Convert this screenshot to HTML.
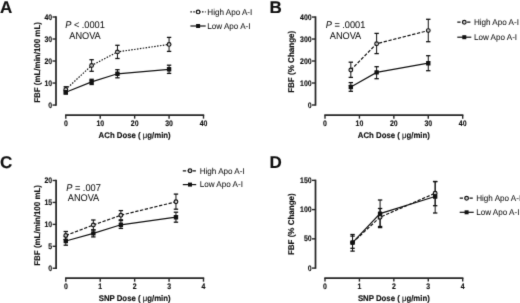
<!DOCTYPE html>
<html><head><meta charset="utf-8"><style>
html,body{margin:0;padding:0;background:#fff;}
svg{display:block;will-change:transform;text-rendering:geometricPrecision;}
text{font-family:"Liberation Sans", sans-serif;fill:#111;}
</style></head><body>
<svg width="520" height="303" viewBox="0 0 520 303">
<defs><filter id="soft" x="0" y="0" width="520" height="303" filterUnits="userSpaceOnUse" color-interpolation-filters="sRGB"><feConvolveMatrix order="3" kernelMatrix="1 7 1 7 55 7 1 7 1" divisor="87" edgeMode="duplicate"/></filter></defs>
<g filter="url(#soft)">
<rect width="520" height="303" fill="#fff"/>
<text transform="translate(0.00,12.60) scale(1,1.0)" font-size="17" font-weight="bold" stroke="#111" stroke-width="0.15">A</text>
<line x1="56.0" y1="16.3" x2="56.0" y2="105.75" stroke="#262626" stroke-width="1.75"/>
<line x1="52.5" y1="105.05" x2="56.0" y2="105.05" stroke="#262626" stroke-width="1.4"/>
<text transform="translate(52.05,107.55) scale(1,1.15)" font-size="6.9" font-weight="bold" text-anchor="end" stroke="#111" stroke-width="0.15" letter-spacing="0">0</text>
<line x1="52.5" y1="83.04" x2="56.0" y2="83.04" stroke="#262626" stroke-width="1.4"/>
<text transform="translate(52.05,85.54) scale(1,1.15)" font-size="6.9" font-weight="bold" text-anchor="end" stroke="#111" stroke-width="0.15" letter-spacing="0">10</text>
<line x1="52.5" y1="61.02" x2="56.0" y2="61.02" stroke="#262626" stroke-width="1.4"/>
<text transform="translate(52.05,63.52) scale(1,1.15)" font-size="6.9" font-weight="bold" text-anchor="end" stroke="#111" stroke-width="0.15" letter-spacing="0">20</text>
<line x1="52.5" y1="39.01" x2="56.0" y2="39.01" stroke="#262626" stroke-width="1.4"/>
<text transform="translate(52.05,41.51) scale(1,1.15)" font-size="6.9" font-weight="bold" text-anchor="end" stroke="#111" stroke-width="0.15" letter-spacing="0">30</text>
<line x1="52.5" y1="17.00" x2="56.0" y2="17.00" stroke="#262626" stroke-width="1.4"/>
<text transform="translate(52.05,19.50) scale(1,1.15)" font-size="6.9" font-weight="bold" text-anchor="end" stroke="#111" stroke-width="0.15" letter-spacing="0">40</text>
<line x1="65.1" y1="115.15" x2="204.2" y2="115.15" stroke="#262626" stroke-width="1.75"/>
<line x1="65.80" y1="115.15" x2="65.80" y2="118.65" stroke="#262626" stroke-width="1.4"/>
<text transform="translate(65.80,125.60) scale(1,1.15)" font-size="6.9" font-weight="bold" text-anchor="middle" stroke="#111" stroke-width="0.15" letter-spacing="0">0</text>
<line x1="100.22" y1="115.15" x2="100.22" y2="118.65" stroke="#262626" stroke-width="1.4"/>
<text transform="translate(100.22,125.60) scale(1,1.15)" font-size="6.9" font-weight="bold" text-anchor="middle" stroke="#111" stroke-width="0.15" letter-spacing="0">10</text>
<line x1="134.65" y1="115.15" x2="134.65" y2="118.65" stroke="#262626" stroke-width="1.4"/>
<text transform="translate(134.65,125.60) scale(1,1.15)" font-size="6.9" font-weight="bold" text-anchor="middle" stroke="#111" stroke-width="0.15" letter-spacing="0">20</text>
<line x1="169.07" y1="115.15" x2="169.07" y2="118.65" stroke="#262626" stroke-width="1.4"/>
<text transform="translate(169.07,125.60) scale(1,1.15)" font-size="6.9" font-weight="bold" text-anchor="middle" stroke="#111" stroke-width="0.15" letter-spacing="0">30</text>
<line x1="203.50" y1="115.15" x2="203.50" y2="118.65" stroke="#262626" stroke-width="1.4"/>
<text transform="translate(203.50,125.60) scale(1,1.15)" font-size="6.9" font-weight="bold" text-anchor="middle" stroke="#111" stroke-width="0.15" letter-spacing="0">40</text>
<text transform="translate(134.65,137.80) scale(1,1.05)" font-size="7.8" font-weight="bold" text-anchor="middle" stroke="#111" stroke-width="0.15">ACh Dose ( <tspan font-weight="normal">&#956;</tspan>g/min)</text>
<text transform="translate(39.60,62.45) rotate(-90) scale(1,1.05)" font-size="7.95" font-weight="bold" text-anchor="middle" stroke="#111" stroke-width="0.15">FBF (mL/min/100 mL)</text>
<text transform="translate(85.00,28.00) scale(1,1.05)" font-size="9.2" text-anchor="middle" stroke="#111" stroke-width="0.05"><tspan font-style="italic">P</tspan> &lt; .0001</text>
<text transform="translate(85.00,38.50) scale(1,1.05)" font-size="9.2" text-anchor="middle" stroke="#111" stroke-width="0.05">ANOVA</text>
<polyline points="65.80,89.40 91.62,65.50 117.44,51.90 169.07,44.40" fill="none" stroke="#111" stroke-width="1.2" stroke-dasharray="1.5 1.4"/>
<polyline points="65.80,92.30 91.62,81.90 117.44,73.80 169.07,69.30" fill="none" stroke="#111" stroke-width="1.2"/>
<line x1="65.80" y1="86.75" x2="65.80" y2="92.00" stroke="#111" stroke-width="1.0"/>
<line x1="63.60" y1="86.75" x2="68.00" y2="86.75" stroke="#111" stroke-width="1.3"/>
<line x1="63.60" y1="92.00" x2="68.00" y2="92.00" stroke="#111" stroke-width="1.3"/>
<line x1="91.62" y1="59.70" x2="91.62" y2="71.30" stroke="#111" stroke-width="1.0"/>
<line x1="89.42" y1="59.70" x2="93.82" y2="59.70" stroke="#111" stroke-width="1.3"/>
<line x1="89.42" y1="71.30" x2="93.82" y2="71.30" stroke="#111" stroke-width="1.3"/>
<line x1="117.44" y1="45.30" x2="117.44" y2="58.50" stroke="#111" stroke-width="1.0"/>
<line x1="115.24" y1="45.30" x2="119.64" y2="45.30" stroke="#111" stroke-width="1.3"/>
<line x1="115.24" y1="58.50" x2="119.64" y2="58.50" stroke="#111" stroke-width="1.3"/>
<line x1="169.07" y1="37.40" x2="169.07" y2="51.40" stroke="#111" stroke-width="1.0"/>
<line x1="166.88" y1="37.40" x2="171.27" y2="37.40" stroke="#111" stroke-width="1.3"/>
<line x1="166.88" y1="51.40" x2="171.27" y2="51.40" stroke="#111" stroke-width="1.3"/>
<line x1="65.80" y1="90.60" x2="65.80" y2="94.00" stroke="#111" stroke-width="1.0"/>
<line x1="63.60" y1="90.60" x2="68.00" y2="90.60" stroke="#111" stroke-width="1.3"/>
<line x1="63.60" y1="94.00" x2="68.00" y2="94.00" stroke="#111" stroke-width="1.3"/>
<line x1="91.62" y1="79.30" x2="91.62" y2="84.50" stroke="#111" stroke-width="1.0"/>
<line x1="89.42" y1="79.30" x2="93.82" y2="79.30" stroke="#111" stroke-width="1.3"/>
<line x1="89.42" y1="84.50" x2="93.82" y2="84.50" stroke="#111" stroke-width="1.3"/>
<line x1="117.44" y1="69.70" x2="117.44" y2="77.80" stroke="#111" stroke-width="1.0"/>
<line x1="115.24" y1="69.70" x2="119.64" y2="69.70" stroke="#111" stroke-width="1.3"/>
<line x1="115.24" y1="77.80" x2="119.64" y2="77.80" stroke="#111" stroke-width="1.3"/>
<line x1="169.07" y1="65.20" x2="169.07" y2="73.40" stroke="#111" stroke-width="1.0"/>
<line x1="166.88" y1="65.20" x2="171.27" y2="65.20" stroke="#111" stroke-width="1.3"/>
<line x1="166.88" y1="73.40" x2="171.27" y2="73.40" stroke="#111" stroke-width="1.3"/>
<circle cx="65.80" cy="89.40" r="1.85" fill="#fff" fill-opacity="0.7" stroke="#111" stroke-width="1.2"/>
<circle cx="91.62" cy="65.50" r="1.85" fill="#fff" fill-opacity="0.7" stroke="#111" stroke-width="1.2"/>
<circle cx="117.44" cy="51.90" r="1.85" fill="#fff" fill-opacity="0.7" stroke="#111" stroke-width="1.2"/>
<circle cx="169.07" cy="44.40" r="1.85" fill="#fff" fill-opacity="0.7" stroke="#111" stroke-width="1.2"/>
<rect x="63.60" y="90.10" width="4.4" height="4.4" rx="0.5" fill="#111"/>
<rect x="89.42" y="79.70" width="4.4" height="4.4" rx="0.5" fill="#111"/>
<rect x="115.24" y="71.60" width="4.4" height="4.4" rx="0.5" fill="#111"/>
<rect x="166.88" y="67.10" width="4.4" height="4.4" rx="0.5" fill="#111"/>
<line x1="190.4" y1="11.9" x2="205.70000000000002" y2="11.9" stroke="#111" stroke-width="1.2" stroke-dasharray="1.5 1.4"/>
<circle cx="198.1" cy="11.9" r="1.85" fill="#fff" fill-opacity="0.7" stroke="#111" stroke-width="1.2"/>
<text transform="translate(207.30,14.70) scale(1,1.05)" font-size="8.1" stroke="#111" stroke-width="0.05">High Apo A-I</text>
<line x1="190.4" y1="26.0" x2="205.70000000000002" y2="26.0" stroke="#111" stroke-width="1.2"/>
<rect x="196.1" y="24.0" width="4" height="4" fill="#111"/>
<text transform="translate(207.30,28.80) scale(1,1.05)" font-size="8.1" stroke="#111" stroke-width="0.05">Low Apo A-I</text>
<text transform="translate(269.60,12.60) scale(1,1.0)" font-size="17" font-weight="bold" stroke="#111" stroke-width="0.15">B</text>
<line x1="315.5" y1="16.35" x2="315.5" y2="105.7" stroke="#262626" stroke-width="1.75"/>
<line x1="312.0" y1="105.00" x2="315.5" y2="105.00" stroke="#262626" stroke-width="1.4"/>
<text transform="translate(311.55,107.50) scale(1,1.15)" font-size="6.9" font-weight="bold" text-anchor="end" stroke="#111" stroke-width="0.15" letter-spacing="0">0</text>
<line x1="312.0" y1="83.01" x2="315.5" y2="83.01" stroke="#262626" stroke-width="1.4"/>
<text transform="translate(311.55,85.51) scale(1,1.15)" font-size="6.9" font-weight="bold" text-anchor="end" stroke="#111" stroke-width="0.15" letter-spacing="0">100</text>
<line x1="312.0" y1="61.02" x2="315.5" y2="61.02" stroke="#262626" stroke-width="1.4"/>
<text transform="translate(311.55,63.52) scale(1,1.15)" font-size="6.9" font-weight="bold" text-anchor="end" stroke="#111" stroke-width="0.15" letter-spacing="0">200</text>
<line x1="312.0" y1="39.04" x2="315.5" y2="39.04" stroke="#262626" stroke-width="1.4"/>
<text transform="translate(311.55,41.54) scale(1,1.15)" font-size="6.9" font-weight="bold" text-anchor="end" stroke="#111" stroke-width="0.15" letter-spacing="0">300</text>
<line x1="312.0" y1="17.05" x2="315.5" y2="17.05" stroke="#262626" stroke-width="1.4"/>
<text transform="translate(311.55,19.55) scale(1,1.15)" font-size="6.9" font-weight="bold" text-anchor="end" stroke="#111" stroke-width="0.15" letter-spacing="0">400</text>
<line x1="324.3" y1="115.15" x2="463.4" y2="115.15" stroke="#262626" stroke-width="1.75"/>
<line x1="325.00" y1="115.15" x2="325.00" y2="118.65" stroke="#262626" stroke-width="1.4"/>
<text transform="translate(325.00,125.60) scale(1,1.15)" font-size="6.9" font-weight="bold" text-anchor="middle" stroke="#111" stroke-width="0.15" letter-spacing="0">0</text>
<line x1="359.43" y1="115.15" x2="359.43" y2="118.65" stroke="#262626" stroke-width="1.4"/>
<text transform="translate(359.43,125.60) scale(1,1.15)" font-size="6.9" font-weight="bold" text-anchor="middle" stroke="#111" stroke-width="0.15" letter-spacing="0">10</text>
<line x1="393.85" y1="115.15" x2="393.85" y2="118.65" stroke="#262626" stroke-width="1.4"/>
<text transform="translate(393.85,125.60) scale(1,1.15)" font-size="6.9" font-weight="bold" text-anchor="middle" stroke="#111" stroke-width="0.15" letter-spacing="0">20</text>
<line x1="428.27" y1="115.15" x2="428.27" y2="118.65" stroke="#262626" stroke-width="1.4"/>
<text transform="translate(428.27,125.60) scale(1,1.15)" font-size="6.9" font-weight="bold" text-anchor="middle" stroke="#111" stroke-width="0.15" letter-spacing="0">30</text>
<line x1="462.70" y1="115.15" x2="462.70" y2="118.65" stroke="#262626" stroke-width="1.4"/>
<text transform="translate(462.70,125.60) scale(1,1.15)" font-size="6.9" font-weight="bold" text-anchor="middle" stroke="#111" stroke-width="0.15" letter-spacing="0">40</text>
<text transform="translate(393.85,137.80) scale(1,1.05)" font-size="7.8" font-weight="bold" text-anchor="middle" stroke="#111" stroke-width="0.15">ACh Dose ( <tspan font-weight="normal">&#956;</tspan>g/min)</text>
<text transform="translate(294.40,61.80) rotate(-90) scale(1,1.05)" font-size="8.05" font-weight="bold" text-anchor="middle" stroke="#111" stroke-width="0.15">FBF (% Change)</text>
<text transform="translate(345.50,28.00) scale(1,1.05)" font-size="9.2" text-anchor="middle" stroke="#111" stroke-width="0.05"><tspan font-style="italic">P</tspan> = .0001</text>
<text transform="translate(345.50,38.50) scale(1,1.05)" font-size="9.2" text-anchor="middle" stroke="#111" stroke-width="0.05">ANOVA</text>
<polyline points="350.82,70.00 376.64,43.70 428.27,30.60" fill="none" stroke="#111" stroke-width="1.2" stroke-dasharray="3.3 1.6"/>
<polyline points="350.82,87.00 376.64,72.40 428.27,63.20" fill="none" stroke="#111" stroke-width="1.2"/>
<line x1="350.82" y1="62.20" x2="350.82" y2="77.40" stroke="#111" stroke-width="1.0"/>
<line x1="348.62" y1="62.20" x2="353.02" y2="62.20" stroke="#111" stroke-width="1.3"/>
<line x1="348.62" y1="77.40" x2="353.02" y2="77.40" stroke="#111" stroke-width="1.3"/>
<line x1="376.64" y1="33.40" x2="376.64" y2="53.60" stroke="#111" stroke-width="1.0"/>
<line x1="374.44" y1="33.40" x2="378.84" y2="33.40" stroke="#111" stroke-width="1.3"/>
<line x1="374.44" y1="53.60" x2="378.84" y2="53.60" stroke="#111" stroke-width="1.3"/>
<line x1="428.27" y1="19.30" x2="428.27" y2="41.70" stroke="#111" stroke-width="1.0"/>
<line x1="426.07" y1="19.30" x2="430.47" y2="19.30" stroke="#111" stroke-width="1.3"/>
<line x1="426.07" y1="41.70" x2="430.47" y2="41.70" stroke="#111" stroke-width="1.3"/>
<line x1="350.82" y1="82.60" x2="350.82" y2="91.30" stroke="#111" stroke-width="1.0"/>
<line x1="348.62" y1="82.60" x2="353.02" y2="82.60" stroke="#111" stroke-width="1.3"/>
<line x1="348.62" y1="91.30" x2="353.02" y2="91.30" stroke="#111" stroke-width="1.3"/>
<line x1="376.64" y1="66.70" x2="376.64" y2="78.70" stroke="#111" stroke-width="1.0"/>
<line x1="374.44" y1="66.70" x2="378.84" y2="66.70" stroke="#111" stroke-width="1.3"/>
<line x1="374.44" y1="78.70" x2="378.84" y2="78.70" stroke="#111" stroke-width="1.3"/>
<line x1="428.27" y1="55.70" x2="428.27" y2="70.70" stroke="#111" stroke-width="1.0"/>
<line x1="426.07" y1="55.70" x2="430.47" y2="55.70" stroke="#111" stroke-width="1.3"/>
<line x1="426.07" y1="70.70" x2="430.47" y2="70.70" stroke="#111" stroke-width="1.3"/>
<circle cx="350.82" cy="70.00" r="1.85" fill="#fff" fill-opacity="0.7" stroke="#111" stroke-width="1.2"/>
<circle cx="376.64" cy="43.70" r="1.85" fill="#fff" fill-opacity="0.7" stroke="#111" stroke-width="1.2"/>
<circle cx="428.27" cy="30.60" r="1.85" fill="#fff" fill-opacity="0.7" stroke="#111" stroke-width="1.2"/>
<rect x="348.62" y="84.80" width="4.4" height="4.4" rx="0.5" fill="#111"/>
<rect x="374.44" y="70.20" width="4.4" height="4.4" rx="0.5" fill="#111"/>
<rect x="426.07" y="61.00" width="4.4" height="4.4" rx="0.5" fill="#111"/>
<line x1="457.3" y1="22.2" x2="471.3" y2="22.2" stroke="#111" stroke-width="1.2" stroke-dasharray="3.3 1.6"/>
<circle cx="464.3" cy="22.2" r="1.85" fill="#fff" fill-opacity="0.7" stroke="#111" stroke-width="1.2"/>
<text transform="translate(473.90,25.00) scale(1,1.05)" font-size="8.1" stroke="#111" stroke-width="0.05">High Apo A-I</text>
<line x1="457.3" y1="37.2" x2="471.3" y2="37.2" stroke="#111" stroke-width="1.2"/>
<rect x="462.3" y="35.2" width="4" height="4" fill="#111"/>
<text transform="translate(473.90,40.00) scale(1,1.05)" font-size="8.1" stroke="#111" stroke-width="0.05">Low Apo A-I</text>
<text transform="translate(0.00,168.10) scale(1,1.0)" font-size="17" font-weight="bold" stroke="#111" stroke-width="0.15">C</text>
<line x1="56.1" y1="179.8" x2="56.1" y2="268.95" stroke="#262626" stroke-width="1.75"/>
<line x1="52.6" y1="268.25" x2="56.1" y2="268.25" stroke="#262626" stroke-width="1.4"/>
<text transform="translate(52.15,270.75) scale(1,1.15)" font-size="6.9" font-weight="bold" text-anchor="end" stroke="#111" stroke-width="0.15" letter-spacing="0">0</text>
<line x1="52.6" y1="246.31" x2="56.1" y2="246.31" stroke="#262626" stroke-width="1.4"/>
<text transform="translate(52.15,248.81) scale(1,1.15)" font-size="6.9" font-weight="bold" text-anchor="end" stroke="#111" stroke-width="0.15" letter-spacing="0">5</text>
<line x1="52.6" y1="224.38" x2="56.1" y2="224.38" stroke="#262626" stroke-width="1.4"/>
<text transform="translate(52.15,226.88) scale(1,1.15)" font-size="6.9" font-weight="bold" text-anchor="end" stroke="#111" stroke-width="0.15" letter-spacing="0">10</text>
<line x1="52.6" y1="202.44" x2="56.1" y2="202.44" stroke="#262626" stroke-width="1.4"/>
<text transform="translate(52.15,204.94) scale(1,1.15)" font-size="6.9" font-weight="bold" text-anchor="end" stroke="#111" stroke-width="0.15" letter-spacing="0">15</text>
<line x1="52.6" y1="180.50" x2="56.1" y2="180.50" stroke="#262626" stroke-width="1.4"/>
<text transform="translate(52.15,183.00) scale(1,1.15)" font-size="6.9" font-weight="bold" text-anchor="end" stroke="#111" stroke-width="0.15" letter-spacing="0">20</text>
<line x1="65.1" y1="278.2" x2="204.2" y2="278.2" stroke="#262626" stroke-width="1.75"/>
<line x1="65.80" y1="278.2" x2="65.80" y2="281.7" stroke="#262626" stroke-width="1.4"/>
<text transform="translate(65.80,288.65) scale(1,1.15)" font-size="6.9" font-weight="bold" text-anchor="middle" stroke="#111" stroke-width="0.15" letter-spacing="0">0</text>
<line x1="100.22" y1="278.2" x2="100.22" y2="281.7" stroke="#262626" stroke-width="1.4"/>
<text transform="translate(100.22,288.65) scale(1,1.15)" font-size="6.9" font-weight="bold" text-anchor="middle" stroke="#111" stroke-width="0.15" letter-spacing="0">1</text>
<line x1="134.65" y1="278.2" x2="134.65" y2="281.7" stroke="#262626" stroke-width="1.4"/>
<text transform="translate(134.65,288.65) scale(1,1.15)" font-size="6.9" font-weight="bold" text-anchor="middle" stroke="#111" stroke-width="0.15" letter-spacing="0">2</text>
<line x1="169.07" y1="278.2" x2="169.07" y2="281.7" stroke="#262626" stroke-width="1.4"/>
<text transform="translate(169.07,288.65) scale(1,1.15)" font-size="6.9" font-weight="bold" text-anchor="middle" stroke="#111" stroke-width="0.15" letter-spacing="0">3</text>
<line x1="203.50" y1="278.2" x2="203.50" y2="281.7" stroke="#262626" stroke-width="1.4"/>
<text transform="translate(203.50,288.65) scale(1,1.15)" font-size="6.9" font-weight="bold" text-anchor="middle" stroke="#111" stroke-width="0.15" letter-spacing="0">4</text>
<text transform="translate(134.65,300.80) scale(1,1.05)" font-size="7.8" font-weight="bold" text-anchor="middle" stroke="#111" stroke-width="0.15">SNP Dose ( <tspan font-weight="normal">&#956;</tspan>g/min)</text>
<text transform="translate(39.60,225.40) rotate(-90) scale(1,1.05)" font-size="7.95" font-weight="bold" text-anchor="middle" stroke="#111" stroke-width="0.15">FBF (mL/min/100 mL)</text>
<text transform="translate(83.50,190.50) scale(1,1.05)" font-size="9.2" text-anchor="middle" stroke="#111" stroke-width="0.05"><tspan font-style="italic">P</tspan> = .007</text>
<text transform="translate(83.50,201.00) scale(1,1.05)" font-size="9.2" text-anchor="middle" stroke="#111" stroke-width="0.05">ANOVA</text>
<polyline points="65.80,235.50 93.34,225.00 120.88,215.20 175.96,201.80" fill="none" stroke="#111" stroke-width="1.2" stroke-dasharray="3.3 1.6"/>
<polyline points="65.80,241.00 93.34,233.40 120.88,224.80 175.96,217.20" fill="none" stroke="#111" stroke-width="1.2"/>
<line x1="65.80" y1="231.50" x2="65.80" y2="239.50" stroke="#111" stroke-width="1.0"/>
<line x1="63.60" y1="231.50" x2="68.00" y2="231.50" stroke="#111" stroke-width="1.3"/>
<line x1="63.60" y1="239.50" x2="68.00" y2="239.50" stroke="#111" stroke-width="1.3"/>
<line x1="93.34" y1="220.00" x2="93.34" y2="230.00" stroke="#111" stroke-width="1.0"/>
<line x1="91.14" y1="220.00" x2="95.54" y2="220.00" stroke="#111" stroke-width="1.3"/>
<line x1="91.14" y1="230.00" x2="95.54" y2="230.00" stroke="#111" stroke-width="1.3"/>
<line x1="120.88" y1="210.60" x2="120.88" y2="219.80" stroke="#111" stroke-width="1.0"/>
<line x1="118.68" y1="210.60" x2="123.08" y2="210.60" stroke="#111" stroke-width="1.3"/>
<line x1="118.68" y1="219.80" x2="123.08" y2="219.80" stroke="#111" stroke-width="1.3"/>
<line x1="175.96" y1="194.10" x2="175.96" y2="209.20" stroke="#111" stroke-width="1.0"/>
<line x1="173.76" y1="194.10" x2="178.16" y2="194.10" stroke="#111" stroke-width="1.3"/>
<line x1="173.76" y1="209.20" x2="178.16" y2="209.20" stroke="#111" stroke-width="1.3"/>
<line x1="65.80" y1="236.60" x2="65.80" y2="245.20" stroke="#111" stroke-width="1.0"/>
<line x1="63.60" y1="236.60" x2="68.00" y2="236.60" stroke="#111" stroke-width="1.3"/>
<line x1="63.60" y1="245.20" x2="68.00" y2="245.20" stroke="#111" stroke-width="1.3"/>
<line x1="93.34" y1="229.80" x2="93.34" y2="236.90" stroke="#111" stroke-width="1.0"/>
<line x1="91.14" y1="229.80" x2="95.54" y2="229.80" stroke="#111" stroke-width="1.3"/>
<line x1="91.14" y1="236.90" x2="95.54" y2="236.90" stroke="#111" stroke-width="1.3"/>
<line x1="120.88" y1="220.60" x2="120.88" y2="228.40" stroke="#111" stroke-width="1.0"/>
<line x1="118.68" y1="220.60" x2="123.08" y2="220.60" stroke="#111" stroke-width="1.3"/>
<line x1="118.68" y1="228.40" x2="123.08" y2="228.40" stroke="#111" stroke-width="1.3"/>
<line x1="175.96" y1="212.20" x2="175.96" y2="222.20" stroke="#111" stroke-width="1.0"/>
<line x1="173.76" y1="212.20" x2="178.16" y2="212.20" stroke="#111" stroke-width="1.3"/>
<line x1="173.76" y1="222.20" x2="178.16" y2="222.20" stroke="#111" stroke-width="1.3"/>
<circle cx="65.80" cy="235.50" r="1.85" fill="#fff" fill-opacity="0.7" stroke="#111" stroke-width="1.2"/>
<circle cx="93.34" cy="225.00" r="1.85" fill="#fff" fill-opacity="0.7" stroke="#111" stroke-width="1.2"/>
<circle cx="120.88" cy="215.20" r="1.85" fill="#fff" fill-opacity="0.7" stroke="#111" stroke-width="1.2"/>
<circle cx="175.96" cy="201.80" r="1.85" fill="#fff" fill-opacity="0.7" stroke="#111" stroke-width="1.2"/>
<rect x="63.60" y="238.80" width="4.4" height="4.4" rx="0.5" fill="#111"/>
<rect x="91.14" y="231.20" width="4.4" height="4.4" rx="0.5" fill="#111"/>
<rect x="118.68" y="222.60" width="4.4" height="4.4" rx="0.5" fill="#111"/>
<rect x="173.76" y="215.00" width="4.4" height="4.4" rx="0.5" fill="#111"/>
<line x1="182.8" y1="170.8" x2="196.20000000000002" y2="170.8" stroke="#111" stroke-width="1.2" stroke-dasharray="3.3 1.6"/>
<circle cx="190.0" cy="170.8" r="1.85" fill="#fff" fill-opacity="0.7" stroke="#111" stroke-width="1.2"/>
<text transform="translate(199.70,173.60) scale(1,1.05)" font-size="8.1" stroke="#111" stroke-width="0.05">High Apo A-I</text>
<line x1="182.8" y1="184.60000000000002" x2="196.20000000000002" y2="184.60000000000002" stroke="#111" stroke-width="1.2"/>
<rect x="188.0" y="182.60000000000002" width="4" height="4" fill="#111"/>
<text transform="translate(199.70,187.40) scale(1,1.05)" font-size="8.1" stroke="#111" stroke-width="0.05">Low Apo A-I</text>
<text transform="translate(269.60,168.30) scale(1,1.0)" font-size="17" font-weight="bold" stroke="#111" stroke-width="0.15">D</text>
<line x1="315.5" y1="179.65" x2="315.5" y2="268.8" stroke="#262626" stroke-width="1.75"/>
<line x1="312.0" y1="268.10" x2="315.5" y2="268.10" stroke="#262626" stroke-width="1.4"/>
<text transform="translate(311.55,270.60) scale(1,1.15)" font-size="6.9" font-weight="bold" text-anchor="end" stroke="#111" stroke-width="0.15" letter-spacing="0">0</text>
<line x1="312.0" y1="238.85" x2="315.5" y2="238.85" stroke="#262626" stroke-width="1.4"/>
<text transform="translate(311.55,241.35) scale(1,1.15)" font-size="6.9" font-weight="bold" text-anchor="end" stroke="#111" stroke-width="0.15" letter-spacing="0">50</text>
<line x1="312.0" y1="209.60" x2="315.5" y2="209.60" stroke="#262626" stroke-width="1.4"/>
<text transform="translate(311.55,212.10) scale(1,1.15)" font-size="6.9" font-weight="bold" text-anchor="end" stroke="#111" stroke-width="0.15" letter-spacing="0">100</text>
<line x1="312.0" y1="180.35" x2="315.5" y2="180.35" stroke="#262626" stroke-width="1.4"/>
<text transform="translate(311.55,182.85) scale(1,1.15)" font-size="6.9" font-weight="bold" text-anchor="end" stroke="#111" stroke-width="0.15" letter-spacing="0">150</text>
<line x1="324.3" y1="278.1" x2="463.4" y2="278.1" stroke="#262626" stroke-width="1.75"/>
<line x1="325.00" y1="278.1" x2="325.00" y2="281.6" stroke="#262626" stroke-width="1.4"/>
<text transform="translate(325.00,288.55) scale(1,1.15)" font-size="6.9" font-weight="bold" text-anchor="middle" stroke="#111" stroke-width="0.15" letter-spacing="0">0</text>
<line x1="359.43" y1="278.1" x2="359.43" y2="281.6" stroke="#262626" stroke-width="1.4"/>
<text transform="translate(359.43,288.55) scale(1,1.15)" font-size="6.9" font-weight="bold" text-anchor="middle" stroke="#111" stroke-width="0.15" letter-spacing="0">1</text>
<line x1="393.85" y1="278.1" x2="393.85" y2="281.6" stroke="#262626" stroke-width="1.4"/>
<text transform="translate(393.85,288.55) scale(1,1.15)" font-size="6.9" font-weight="bold" text-anchor="middle" stroke="#111" stroke-width="0.15" letter-spacing="0">2</text>
<line x1="428.27" y1="278.1" x2="428.27" y2="281.6" stroke="#262626" stroke-width="1.4"/>
<text transform="translate(428.27,288.55) scale(1,1.15)" font-size="6.9" font-weight="bold" text-anchor="middle" stroke="#111" stroke-width="0.15" letter-spacing="0">3</text>
<line x1="462.70" y1="278.1" x2="462.70" y2="281.6" stroke="#262626" stroke-width="1.4"/>
<text transform="translate(462.70,288.55) scale(1,1.15)" font-size="6.9" font-weight="bold" text-anchor="middle" stroke="#111" stroke-width="0.15" letter-spacing="0">4</text>
<text transform="translate(393.85,300.80) scale(1,1.05)" font-size="7.8" font-weight="bold" text-anchor="middle" stroke="#111" stroke-width="0.15">SNP Dose ( <tspan font-weight="normal">&#956;</tspan>g/min)</text>
<text transform="translate(294.40,224.20) rotate(-90) scale(1,1.05)" font-size="8.0" font-weight="bold" text-anchor="middle" stroke="#111" stroke-width="0.15">FBF (% Change)</text>
<polyline points="352.54,242.60 380.08,217.20 435.16,193.20" fill="none" stroke="#111" stroke-width="1.2" stroke-dasharray="3.3 1.6"/>
<polyline points="352.54,242.60 380.08,213.60 435.16,196.50" fill="none" stroke="#111" stroke-width="1.2"/>
<line x1="352.54" y1="234.50" x2="352.54" y2="251.10" stroke="#111" stroke-width="1.0"/>
<line x1="350.34" y1="234.50" x2="354.74" y2="234.50" stroke="#111" stroke-width="1.3"/>
<line x1="350.34" y1="251.10" x2="354.74" y2="251.10" stroke="#111" stroke-width="1.3"/>
<line x1="380.08" y1="208.50" x2="380.08" y2="226.50" stroke="#111" stroke-width="1.0"/>
<line x1="377.88" y1="208.50" x2="382.28" y2="208.50" stroke="#111" stroke-width="1.3"/>
<line x1="377.88" y1="226.50" x2="382.28" y2="226.50" stroke="#111" stroke-width="1.3"/>
<line x1="435.16" y1="181.50" x2="435.16" y2="205.70" stroke="#111" stroke-width="1.0"/>
<line x1="432.96" y1="181.50" x2="437.36" y2="181.50" stroke="#111" stroke-width="1.3"/>
<line x1="432.96" y1="205.70" x2="437.36" y2="205.70" stroke="#111" stroke-width="1.3"/>
<line x1="352.54" y1="236.10" x2="352.54" y2="248.30" stroke="#111" stroke-width="1.0"/>
<line x1="350.34" y1="236.10" x2="354.74" y2="236.10" stroke="#111" stroke-width="1.3"/>
<line x1="350.34" y1="248.30" x2="354.74" y2="248.30" stroke="#111" stroke-width="1.3"/>
<line x1="380.08" y1="200.00" x2="380.08" y2="227.60" stroke="#111" stroke-width="1.0"/>
<line x1="377.88" y1="200.00" x2="382.28" y2="200.00" stroke="#111" stroke-width="1.3"/>
<line x1="377.88" y1="227.60" x2="382.28" y2="227.60" stroke="#111" stroke-width="1.3"/>
<line x1="435.16" y1="181.60" x2="435.16" y2="213.00" stroke="#111" stroke-width="1.0"/>
<line x1="432.96" y1="181.60" x2="437.36" y2="181.60" stroke="#111" stroke-width="1.3"/>
<line x1="432.96" y1="213.00" x2="437.36" y2="213.00" stroke="#111" stroke-width="1.3"/>
<circle cx="352.54" cy="242.60" r="1.85" fill="#fff" fill-opacity="0.7" stroke="#111" stroke-width="1.2"/>
<circle cx="380.08" cy="217.20" r="1.85" fill="#fff" fill-opacity="0.7" stroke="#111" stroke-width="1.2"/>
<circle cx="435.16" cy="193.20" r="1.85" fill="#fff" fill-opacity="0.7" stroke="#111" stroke-width="1.2"/>
<rect x="350.34" y="240.40" width="4.4" height="4.4" rx="0.5" fill="#111"/>
<rect x="377.88" y="211.40" width="4.4" height="4.4" rx="0.5" fill="#111"/>
<rect x="432.96" y="194.30" width="4.4" height="4.4" rx="0.5" fill="#111"/>
<line x1="459.7" y1="198.2" x2="473.7" y2="198.2" stroke="#111" stroke-width="1.2" stroke-dasharray="3.3 1.6"/>
<circle cx="466.59999999999997" cy="198.2" r="1.85" fill="#fff" fill-opacity="0.7" stroke="#111" stroke-width="1.2"/>
<text transform="translate(476.20,201.00) scale(1,1.05)" font-size="8.1" stroke="#111" stroke-width="0.05">High Apo A-I</text>
<line x1="459.7" y1="212.29999999999998" x2="473.7" y2="212.29999999999998" stroke="#111" stroke-width="1.2"/>
<rect x="464.59999999999997" y="210.29999999999998" width="4" height="4" fill="#111"/>
<text transform="translate(476.20,215.10) scale(1,1.05)" font-size="8.1" stroke="#111" stroke-width="0.05">Low Apo A-I</text>
</g>
</svg>
</body></html>
